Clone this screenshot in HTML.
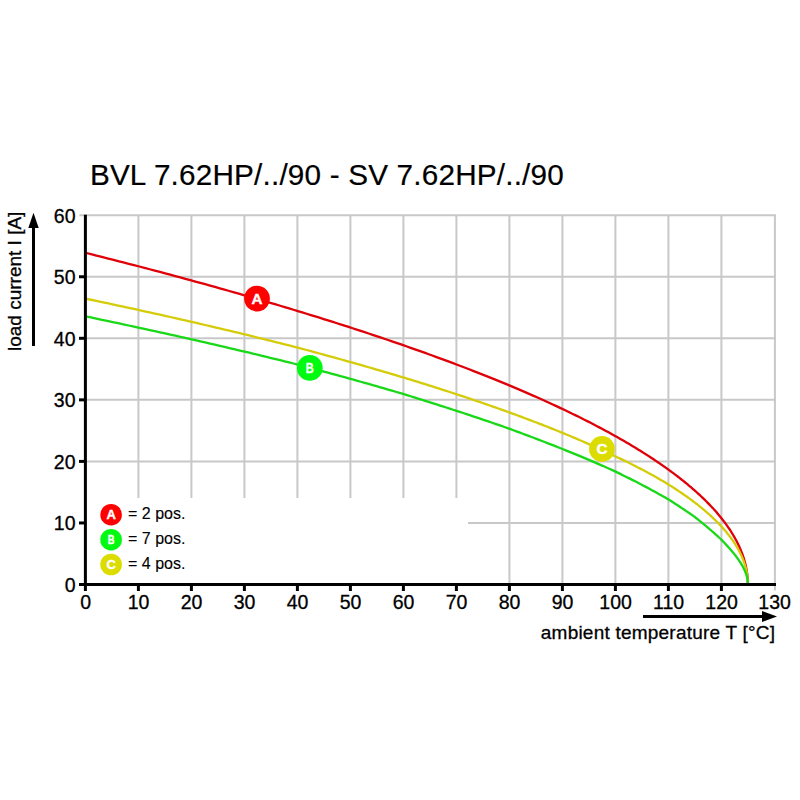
<!DOCTYPE html>
<html><head><meta charset="utf-8"><style>
html,body{margin:0;padding:0;background:#fff;}
svg{display:block;font-family:"Liberation Sans",sans-serif;}
</style></head><body>
<svg width="800" height="800" viewBox="0 0 800 800">
<rect width="800" height="800" fill="#fff"/>
<text x="89.9" y="185" font-size="29.7" letter-spacing="0.19" fill="#000" stroke="#000" stroke-width="0.2">BVL 7.62HP/../90 - SV 7.62HP/../90</text>
<g stroke="#c8c8c8" stroke-width="2">
<line x1="468" y1="522.95" x2="775.9" y2="522.95"/>
<line x1="85.40" y1="461.40" x2="775.9" y2="461.40"/>
<line x1="85.40" y1="399.85" x2="775.9" y2="399.85"/>
<line x1="85.40" y1="338.30" x2="775.9" y2="338.30"/>
<line x1="85.40" y1="276.75" x2="775.9" y2="276.75"/>
<line x1="79.40" y1="215.20" x2="775.9" y2="215.20"/>
<line x1="138.40" y1="215.20" x2="138.40" y2="498"/>
<line x1="191.40" y1="215.20" x2="191.40" y2="498"/>
<line x1="244.40" y1="215.20" x2="244.40" y2="498"/>
<line x1="297.40" y1="215.20" x2="297.40" y2="498"/>
<line x1="350.40" y1="215.20" x2="350.40" y2="498"/>
<line x1="403.40" y1="215.20" x2="403.40" y2="498"/>
<line x1="456.40" y1="215.20" x2="456.40" y2="498"/>
<line x1="509.40" y1="215.20" x2="509.40" y2="584.50"/>
<line x1="562.40" y1="215.20" x2="562.40" y2="584.50"/>
<line x1="615.40" y1="215.20" x2="615.40" y2="584.50"/>
<line x1="668.40" y1="215.20" x2="668.40" y2="584.50"/>
<line x1="721.40" y1="215.20" x2="721.40" y2="584.50"/>
<line x1="774.90" y1="215.20" x2="774.90" y2="590.50"/>
</g>
<g fill="none" stroke-width="2.3" stroke-linejoin="round">
<path d="M85.40,252.75 L90.91,254.13 L96.39,255.51 L101.84,256.89 L107.26,258.27 L112.66,259.64 L118.03,261.02 L123.37,262.39 L128.69,263.77 L133.98,265.14 L139.24,266.51 L144.47,267.88 L149.68,269.25 L154.86,270.62 L160.01,271.98 L165.13,273.35 L170.23,274.71 L175.30,276.08 L180.35,277.44 L185.37,278.80 L190.36,280.16 L195.32,281.52 L200.26,282.87 L205.17,284.23 L210.06,285.58 L214.92,286.94 L219.75,288.29 L224.55,289.64 L229.33,290.99 L234.09,292.34 L238.81,293.68 L243.51,295.03 L248.19,296.37 L252.84,297.72 L257.46,299.06 L262.06,300.40 L266.63,301.74 L271.17,303.08 L275.69,304.41 L280.18,305.75 L284.65,307.08 L289.09,308.42 L293.51,309.75 L297.90,311.08 L302.26,312.41 L306.60,313.74 L310.91,315.06 L315.20,316.39 L319.47,317.71 L323.70,319.03 L327.92,320.36 L332.10,321.68 L336.27,323.00 L340.40,324.31 L344.51,325.63 L348.60,326.94 L352.66,328.26 L356.70,329.57 L360.71,330.88 L364.70,332.19 L368.66,333.50 L372.60,334.80 L376.51,336.11 L380.40,337.41 L384.27,338.72 L388.11,340.02 L391.92,341.32 L395.71,342.61 L399.48,343.91 L403.22,345.21 L406.94,346.50 L410.63,347.79 L414.30,349.09 L417.95,350.38 L421.57,351.66 L425.17,352.95 L428.74,354.24 L432.29,355.52 L435.82,356.80 L439.32,358.08 L442.80,359.36 L446.26,360.64 L449.69,361.92 L453.10,363.20 L456.48,364.47 L459.84,365.74 L463.18,367.01 L466.50,368.28 L469.79,369.55 L473.05,370.82 L476.30,372.08 L479.52,373.35 L482.72,374.61 L485.90,375.87 L489.05,377.13 L492.18,378.39 L495.29,379.64 L498.37,380.90 L501.43,382.15 L504.47,383.40 L507.49,384.65 L510.48,385.90 L513.45,387.15 L516.40,388.39 L519.33,389.63 L522.23,390.88 L525.11,392.12 L527.97,393.36 L530.81,394.59 L533.63,395.83 L536.42,397.06 L539.19,398.29 L541.94,399.53 L544.67,400.75 L547.38,401.98 L550.06,403.21 L552.72,404.43 L555.36,405.65 L557.98,406.87 L560.58,408.09 L563.16,409.31 L565.71,410.53 L568.25,411.74 L570.76,412.95 L573.25,414.16 L575.72,415.37 L578.17,416.58 L580.60,417.79 L583.01,418.99 L585.39,420.19 L587.76,421.39 L590.10,422.59 L592.43,423.79 L594.73,424.98 L597.01,426.17 L599.27,427.37 L601.52,428.56 L603.74,429.74 L605.94,430.93 L608.12,432.11 L610.28,433.30 L612.42,434.48 L614.54,435.65 L616.64,436.83 L618.72,438.01 L620.78,439.18 L622.82,440.35 L624.84,441.52 L626.84,442.69 L628.82,443.85 L630.79,445.01 L632.73,446.18 L634.65,447.34 L636.55,448.49 L638.44,449.65 L640.30,450.80 L642.15,451.95 L643.97,453.10 L645.78,454.25 L647.57,455.40 L649.34,456.54 L651.09,457.68 L652.82,458.82 L654.53,459.96 L656.23,461.09 L657.91,462.23 L659.56,463.36 L661.20,464.49 L662.82,465.61 L664.42,466.74 L666.01,467.86 L667.57,468.98 L669.12,470.10 L670.65,471.22 L672.16,472.33 L673.66,473.44 L675.13,474.55 L676.59,475.66 L678.03,476.76 L679.45,477.87 L680.86,478.97 L682.25,480.06 L683.62,481.16 L684.97,482.25 L686.31,483.34 L687.63,484.43 L688.93,485.52 L690.21,486.60 L691.48,487.69 L692.73,488.77 L693.97,489.84 L695.18,490.92 L696.38,491.99 L697.57,493.06 L698.74,494.13 L699.89,495.19 L701.02,496.25 L702.14,497.31 L703.24,498.37 L704.33,499.42 L705.40,500.47 L706.46,501.52 L707.49,502.57 L708.52,503.61 L709.52,504.65 L710.52,505.69 L711.49,506.73 L712.45,507.76 L713.40,508.79 L714.33,509.82 L715.24,510.84 L716.14,511.86 L717.03,512.88 L717.90,513.90 L718.75,514.91 L719.59,515.92 L720.42,516.93 L721.23,517.93 L722.02,518.93 L722.80,519.93 L723.57,520.93 L724.33,521.92 L725.06,522.91 L725.79,523.89 L726.50,524.87 L727.20,525.85 L727.88,526.83 L728.55,527.80 L729.21,528.77 L729.85,529.74 L730.48,530.70 L731.09,531.66 L731.69,532.61 L732.28,533.57 L732.86,534.51 L733.42,535.46 L733.97,536.40 L734.51,537.34 L735.04,538.27 L735.55,539.20 L736.05,540.13 L736.54,541.05 L737.01,541.97 L737.48,542.88 L737.93,543.79 L738.37,544.70 L738.79,545.60 L739.21,546.50 L739.61,547.40 L740.01,548.29 L740.39,549.17 L740.76,550.05 L741.12,550.93 L741.46,551.80 L741.80,552.67 L742.13,553.53 L742.44,554.39 L742.75,555.24 L743.04,556.09 L743.33,556.93 L743.60,557.77 L743.86,558.60 L744.12,559.43 L744.36,560.25 L744.60,561.07 L744.82,561.88 L745.04,562.68 L745.24,563.48 L745.44,564.28 L745.63,565.06 L745.80,565.84 L745.98,566.62 L746.14,567.39 L746.29,568.15 L746.44,568.90 L746.57,569.65 L746.70,570.39 L746.82,571.12 L746.94,571.84 L747.04,572.55 L747.14,573.26 L747.23,573.96 L747.32,574.65 L747.39,575.33 L747.46,576.00 L747.53,576.66 L747.59,577.30 L747.64,577.94 L747.69,578.57 L747.73,579.18 L747.77,579.77 L747.80,580.36 L747.82,580.92 L747.84,581.47 L747.86,582.00 L747.88,582.51 L747.89,583.00 L747.89,583.45 L747.90,583.87 L747.90,584.23 L747.90,582.50" stroke="#e00008"/>
<path d="M85.40,298.60 L90.91,299.75 L96.39,300.91 L101.84,302.06 L107.26,303.21 L112.66,304.36 L118.03,305.52 L123.37,306.67 L128.69,307.82 L133.98,308.97 L139.24,310.11 L144.47,311.26 L149.68,312.41 L154.86,313.56 L160.01,314.71 L165.13,315.85 L170.23,317.00 L175.30,318.14 L180.35,319.29 L185.37,320.43 L190.36,321.57 L195.32,322.72 L200.26,323.86 L205.17,325.00 L210.06,326.14 L214.92,327.28 L219.75,328.42 L224.55,329.56 L229.33,330.70 L234.09,331.84 L238.81,332.97 L243.51,334.11 L248.19,335.24 L252.84,336.38 L257.46,337.51 L262.06,338.65 L266.63,339.78 L271.17,340.91 L275.69,342.04 L280.18,343.17 L284.65,344.30 L289.09,345.43 L293.51,346.56 L297.90,347.69 L302.26,348.85 L306.60,350.01 L310.91,351.17 L315.20,352.33 L319.47,353.49 L323.70,354.64 L327.92,355.79 L332.10,356.95 L336.27,358.10 L340.40,359.25 L344.51,360.39 L348.60,361.54 L352.66,362.69 L356.70,363.83 L360.71,364.97 L364.70,366.11 L368.66,367.25 L372.60,368.39 L376.51,369.53 L380.40,370.67 L384.27,371.80 L388.11,372.94 L391.92,374.07 L395.71,375.20 L399.48,376.33 L403.22,377.46 L406.94,378.58 L410.63,379.71 L414.30,380.83 L417.95,381.96 L421.57,383.08 L425.17,384.20 L428.74,385.32 L432.29,386.43 L435.82,387.55 L439.32,388.67 L442.80,389.78 L446.26,390.89 L449.69,392.00 L453.10,393.11 L456.48,394.22 L459.84,395.33 L463.18,396.43 L466.50,397.53 L469.79,398.64 L473.05,399.74 L476.30,400.84 L479.52,401.93 L482.72,403.03 L485.90,404.13 L489.05,405.22 L492.18,406.31 L495.29,407.40 L498.37,408.49 L501.43,409.58 L504.47,410.67 L507.49,411.75 L510.48,412.84 L513.45,413.92 L516.40,415.00 L519.33,416.08 L522.23,417.16 L525.11,418.23 L527.97,419.31 L530.81,420.38 L533.63,421.46 L536.42,422.53 L539.19,423.60 L541.94,424.66 L544.67,425.73 L547.38,426.79 L550.06,427.86 L552.72,428.92 L555.36,429.98 L557.98,431.04 L560.58,432.09 L563.16,433.15 L565.71,434.20 L568.25,435.26 L570.76,436.31 L573.25,437.36 L575.72,438.40 L578.17,439.45 L580.60,440.49 L583.01,441.54 L585.39,442.58 L587.76,443.62 L590.10,444.66 L592.43,445.69 L594.73,446.73 L597.01,447.76 L599.27,448.79 L601.52,449.82 L603.74,450.85 L605.94,451.88 L608.12,452.90 L610.28,453.93 L612.42,454.95 L614.54,455.97 L616.64,456.96 L618.72,457.94 L620.78,458.91 L622.82,459.89 L624.84,460.86 L626.84,461.83 L628.82,462.80 L630.79,463.77 L632.73,464.74 L634.65,465.71 L636.55,466.68 L638.44,467.65 L640.30,468.62 L642.15,469.58 L643.97,470.55 L645.78,471.51 L647.57,472.48 L649.34,473.44 L651.09,474.40 L652.82,475.36 L654.53,476.32 L656.23,477.28 L657.91,478.24 L659.56,479.20 L661.20,480.15 L662.82,481.11 L664.42,482.06 L666.01,483.01 L667.57,483.97 L669.12,484.92 L670.65,485.88 L672.16,486.83 L673.66,487.79 L675.13,488.74 L676.59,489.69 L678.03,490.64 L679.45,491.59 L680.86,492.54 L682.25,493.48 L683.62,494.43 L684.97,495.37 L686.31,496.31 L687.63,497.25 L688.93,498.18 L690.21,499.12 L691.48,500.05 L692.73,500.98 L693.97,501.91 L695.18,502.84 L696.38,503.77 L697.57,504.69 L698.74,505.61 L699.89,506.54 L701.02,507.45 L702.14,508.37 L703.24,509.29 L704.33,510.20 L705.40,511.11 L706.46,512.02 L707.49,512.93 L708.52,513.83 L709.52,514.73 L710.52,515.64 L711.49,516.53 L712.45,517.43 L713.40,518.33 L714.33,519.22 L715.24,520.11 L716.14,521.00 L717.03,521.88 L717.90,522.76 L718.75,523.65 L719.59,524.52 L720.42,525.40 L721.23,526.27 L722.02,527.14 L722.80,528.01 L723.57,528.87 L724.33,529.73 L725.06,530.59 L725.79,531.44 L726.50,532.30 L727.20,533.15 L727.88,533.99 L728.55,534.84 L729.21,535.68 L729.85,536.52 L730.48,537.36 L731.09,538.20 L731.69,539.03 L732.28,539.86 L732.86,540.68 L733.42,541.51 L733.97,542.33 L734.51,543.15 L735.04,543.96 L735.55,544.77 L736.05,545.58 L736.54,546.39 L737.01,547.19 L737.48,547.99 L737.93,548.79 L738.37,549.58 L738.79,550.37 L739.21,551.15 L739.61,551.94 L740.01,552.71 L740.39,553.49 L740.76,554.26 L741.12,555.03 L741.46,555.79 L741.80,556.55 L742.13,557.31 L742.44,558.06 L742.75,558.81 L743.04,559.55 L743.33,560.29 L743.60,561.02 L743.86,561.75 L744.12,562.48 L744.36,563.20 L744.60,563.92 L744.82,564.63 L745.04,565.33 L745.24,566.04 L745.44,566.73 L745.63,567.42 L745.80,568.11 L745.98,568.79 L746.14,569.46 L746.29,570.13 L746.44,570.79 L746.57,571.45 L746.70,572.10 L746.82,572.74 L746.94,573.37 L747.04,574.00 L747.14,574.62 L747.23,575.24 L747.32,575.84 L747.39,576.44 L747.46,577.03 L747.53,577.61 L747.59,578.18 L747.64,578.73 L747.69,579.28 L747.73,579.82 L747.77,580.35 L747.80,580.86 L747.82,581.36 L747.84,581.84 L747.86,582.31 L747.88,582.75 L747.89,583.18 L747.89,583.58 L747.90,583.94 L747.90,584.27 L747.90,582.50" stroke="#d4cc08"/>
<path d="M85.40,316.33 L90.91,317.48 L96.39,318.63 L101.84,319.78 L107.26,320.92 L112.66,322.07 L118.03,323.22 L123.37,324.36 L128.69,325.50 L133.98,326.64 L139.24,327.78 L144.47,328.92 L149.68,330.05 L154.86,331.19 L160.01,332.32 L165.13,333.45 L170.23,334.59 L175.30,335.71 L180.35,336.84 L185.37,337.97 L190.36,339.09 L195.32,340.22 L200.26,341.34 L205.17,342.46 L210.06,343.58 L214.92,344.70 L219.75,345.82 L224.55,346.93 L229.33,348.05 L234.09,349.16 L238.81,350.27 L243.51,351.38 L248.19,352.49 L252.84,353.59 L257.46,354.70 L262.06,355.80 L266.63,356.91 L271.17,358.01 L275.69,359.11 L280.18,360.21 L284.65,361.30 L289.09,362.40 L293.51,363.50 L297.90,364.60 L302.26,365.76 L306.60,366.91 L310.91,368.07 L315.20,369.22 L319.47,370.37 L323.70,371.52 L327.92,372.66 L332.10,373.80 L336.27,374.94 L340.40,376.08 L344.51,377.22 L348.60,378.35 L352.66,379.48 L356.70,380.61 L360.71,381.74 L364.70,382.86 L368.66,383.98 L372.60,385.10 L376.51,386.22 L380.40,387.33 L384.27,388.44 L388.11,389.55 L391.92,390.66 L395.71,391.76 L399.48,392.87 L403.22,393.97 L406.94,395.11 L410.63,396.25 L414.30,397.39 L417.95,398.53 L421.57,399.66 L425.17,400.79 L428.74,401.92 L432.29,403.04 L435.82,404.16 L439.32,405.28 L442.80,406.39 L446.26,407.50 L449.69,408.61 L453.10,409.72 L456.48,410.82 L459.84,411.92 L463.18,413.02 L466.50,414.11 L469.79,415.20 L473.05,416.29 L476.30,417.38 L479.52,418.46 L482.72,419.54 L485.90,420.61 L489.05,421.69 L492.18,422.76 L495.29,423.83 L498.37,424.89 L501.43,425.96 L504.47,427.02 L507.49,428.07 L510.48,429.14 L513.45,430.23 L516.40,431.32 L519.33,432.40 L522.23,433.49 L525.11,434.56 L527.97,435.64 L530.81,436.71 L533.63,437.77 L536.42,438.84 L539.19,439.90 L541.94,440.95 L544.67,442.01 L547.38,443.06 L550.06,444.10 L552.72,445.15 L555.36,446.19 L557.98,447.22 L560.58,448.26 L563.16,449.29 L565.71,450.31 L568.25,451.34 L570.76,452.36 L573.25,453.37 L575.72,454.39 L578.17,455.40 L580.60,456.40 L583.01,457.41 L585.39,458.41 L587.76,459.40 L590.10,460.40 L592.43,461.39 L594.73,462.38 L597.01,463.36 L599.27,464.35 L601.52,465.32 L603.74,466.30 L605.94,467.27 L608.12,468.24 L610.28,469.21 L612.42,470.17 L614.54,471.13 L616.64,472.13 L618.72,473.14 L620.78,474.15 L622.82,475.16 L624.84,476.16 L626.84,477.16 L628.82,478.15 L630.79,479.14 L632.73,480.12 L634.65,481.10 L636.55,482.08 L638.44,483.05 L640.30,484.01 L642.15,484.98 L643.97,485.93 L645.78,486.89 L647.57,487.84 L649.34,488.78 L651.09,489.73 L652.82,490.66 L654.53,491.60 L656.23,492.53 L657.91,493.45 L659.56,494.38 L661.20,495.29 L662.82,496.21 L664.42,497.12 L666.01,498.02 L667.57,498.93 L669.12,499.86 L670.65,500.83 L672.16,501.79 L673.66,502.75 L675.13,503.70 L676.59,504.64 L678.03,505.58 L679.45,506.51 L680.86,507.44 L682.25,508.36 L683.62,509.28 L684.97,510.19 L686.31,511.09 L687.63,511.99 L688.93,512.88 L690.21,513.77 L691.48,514.65 L692.73,515.53 L693.97,516.40 L695.18,517.29 L696.38,518.25 L697.57,519.19 L698.74,520.13 L699.89,521.05 L701.02,521.97 L702.14,522.88 L703.24,523.79 L704.33,524.68 L705.40,525.57 L706.46,526.45 L707.49,527.32 L708.52,528.19 L709.52,529.04 L710.52,529.89 L711.49,530.74 L712.45,531.57 L713.40,532.40 L714.33,533.22 L715.24,534.04 L716.14,534.84 L717.03,535.64 L717.90,536.44 L718.75,537.23 L719.59,538.01 L720.42,538.78 L721.23,539.55 L722.02,540.36 L722.80,541.17 L723.57,541.98 L724.33,542.77 L725.06,543.56 L725.79,544.34 L726.50,545.10 L727.20,545.87 L727.88,546.62 L728.55,547.36 L729.21,548.10 L729.85,548.83 L730.48,549.55 L731.09,550.27 L731.69,550.97 L732.28,551.67 L732.86,552.36 L733.42,553.05 L733.97,553.73 L734.51,554.40 L735.04,555.06 L735.55,555.72 L736.05,556.37 L736.54,557.01 L737.01,557.65 L737.48,558.28 L737.93,558.91 L738.37,559.54 L738.79,560.15 L739.21,560.76 L739.61,561.37 L740.01,561.97 L740.39,562.56 L740.76,563.14 L741.12,563.72 L741.46,564.30 L741.80,564.87 L742.13,565.43 L742.44,565.99 L742.75,566.54 L743.04,567.08 L743.33,567.63 L743.60,568.16 L743.86,568.69 L744.12,569.21 L744.36,569.73 L744.60,570.25 L744.82,570.76 L745.04,571.26 L745.24,571.76 L745.44,572.25 L745.63,572.74 L745.80,573.22 L745.98,573.70 L746.14,574.17 L746.29,574.64 L746.44,575.10 L746.57,575.55 L746.70,576.01 L746.82,576.45 L746.94,576.89 L747.04,577.32 L747.14,577.75 L747.23,578.17 L747.32,578.59 L747.39,579.00 L747.46,579.40 L747.53,579.80 L747.59,580.19 L747.64,580.57 L747.69,580.95 L747.73,581.31 L747.77,581.67 L747.80,582.02 L747.82,582.36 L747.84,582.69 L747.86,583.01 L747.88,583.31 L747.89,583.60 L747.89,583.87 L747.90,584.12 L747.90,584.34 L747.90,582.50" stroke="#18d818"/>
</g>
<circle cx="257" cy="298.6" r="12.9" fill="#ff0000"/><text x="257.00" y="304.04" text-anchor="middle" font-weight="bold" font-size="15.2" fill="#fff" stroke="#fff" stroke-width="0.4">A</text>
<circle cx="309.8" cy="367.9" r="12.9" fill="#00fa10"/><text x="305.85" y="373.34" font-weight="bold" font-size="15.2" fill="#fff" stroke="#fff" stroke-width="0.4" textLength="7.90" lengthAdjust="spacingAndGlyphs">B</text>
<circle cx="602" cy="449" r="12.9" fill="#dcdc00"/><text x="602.00" y="454.44" text-anchor="middle" font-weight="bold" font-size="15.2" fill="#fff" stroke="#fff" stroke-width="0.4">C</text>
<g stroke="#000" stroke-width="3">
<line x1="85.40" y1="214.70" x2="85.40" y2="586.00"/>
<line x1="83.90" y1="584.50" x2="776" y2="584.50"/>
<line x1="79" y1="584.50" x2="85.40" y2="584.50"/>
<line x1="79" y1="522.95" x2="85.40" y2="522.95"/>
<line x1="79" y1="461.40" x2="85.40" y2="461.40"/>
<line x1="79" y1="399.85" x2="85.40" y2="399.85"/>
<line x1="79" y1="338.30" x2="85.40" y2="338.30"/>
<line x1="79" y1="276.75" x2="85.40" y2="276.75"/>
<line x1="85.40" y1="584.50" x2="85.40" y2="591"/>
<line x1="138.40" y1="584.50" x2="138.40" y2="591"/>
<line x1="191.40" y1="584.50" x2="191.40" y2="591"/>
<line x1="244.40" y1="584.50" x2="244.40" y2="591"/>
<line x1="297.40" y1="584.50" x2="297.40" y2="591"/>
<line x1="350.40" y1="584.50" x2="350.40" y2="591"/>
<line x1="403.40" y1="584.50" x2="403.40" y2="591"/>
<line x1="456.40" y1="584.50" x2="456.40" y2="591"/>
<line x1="509.40" y1="584.50" x2="509.40" y2="591"/>
<line x1="562.40" y1="584.50" x2="562.40" y2="591"/>
<line x1="615.40" y1="584.50" x2="615.40" y2="591"/>
<line x1="668.40" y1="584.50" x2="668.40" y2="591"/>
<line x1="721.40" y1="584.50" x2="721.40" y2="591"/>
</g>
<g font-size="19.5" fill="#000" stroke="#000" stroke-width="0.3">
<text x="75.5" y="591.80" text-anchor="end">0</text>
<text x="75.5" y="530.25" text-anchor="end">10</text>
<text x="75.5" y="468.70" text-anchor="end">20</text>
<text x="75.5" y="407.15" text-anchor="end">30</text>
<text x="75.5" y="345.60" text-anchor="end">40</text>
<text x="75.5" y="284.05" text-anchor="end">50</text>
<text x="75.5" y="222.50" text-anchor="end">60</text>
<text x="85.60" y="608.9" text-anchor="middle">0</text>
<text x="138.60" y="608.9" text-anchor="middle">10</text>
<text x="191.60" y="608.9" text-anchor="middle">20</text>
<text x="244.60" y="608.9" text-anchor="middle">30</text>
<text x="297.60" y="608.9" text-anchor="middle">40</text>
<text x="350.60" y="608.9" text-anchor="middle">50</text>
<text x="403.60" y="608.9" text-anchor="middle">60</text>
<text x="456.60" y="608.9" text-anchor="middle">70</text>
<text x="509.60" y="608.9" text-anchor="middle">80</text>
<text x="562.60" y="608.9" text-anchor="middle">90</text>
<text x="615.60" y="608.9" text-anchor="middle">100</text>
<text x="668.60" y="608.9" text-anchor="middle">110</text>
<text x="721.60" y="608.9" text-anchor="middle">120</text>
<text x="774.60" y="608.9" text-anchor="middle">130</text>
</g>
<circle cx="111.1" cy="514.7" r="10.8" fill="#ff0000"/><text x="111.10" y="519.35" text-anchor="middle" font-weight="bold" font-size="13" fill="#fff" stroke="#fff" stroke-width="0.4">A</text>
<circle cx="111.1" cy="539.7" r="10.8" fill="#00fa10"/><text x="107.72" y="544.35" font-weight="bold" font-size="13" fill="#fff" stroke="#fff" stroke-width="0.4" textLength="6.76" lengthAdjust="spacingAndGlyphs">B</text>
<circle cx="111.1" cy="564.5" r="10.8" fill="#dcdc00"/><text x="111.10" y="569.15" text-anchor="middle" font-weight="bold" font-size="13" fill="#fff" stroke="#fff" stroke-width="0.4">C</text>
<g font-size="16" fill="#000" stroke="#000" stroke-width="0.12">
<text x="128" y="519">= 2 pos.</text>
<text x="128" y="544">= 7 pos.</text>
<text x="128" y="569">= 4 pos.</text>
</g>
<text transform="translate(21,351) rotate(-90)" font-size="19" fill="#000" stroke="#000" stroke-width="0.3">load current I [A]</text>
<line x1="33.5" y1="346" x2="33.5" y2="226" stroke="#000" stroke-width="3"/>
<polygon points="28.3,228 38.7,228 33.5,212.8" fill="#000"/>
<text x="540.8" y="639.2" font-size="19" letter-spacing="0.22" fill="#000" stroke="#000" stroke-width="0.3">ambient temperature T [°C]</text>
<line x1="643" y1="616.4" x2="764" y2="616.4" stroke="#000" stroke-width="3"/>
<polygon points="762,611 762,622 777,616.4" fill="#000"/>
</svg>
</body></html>
